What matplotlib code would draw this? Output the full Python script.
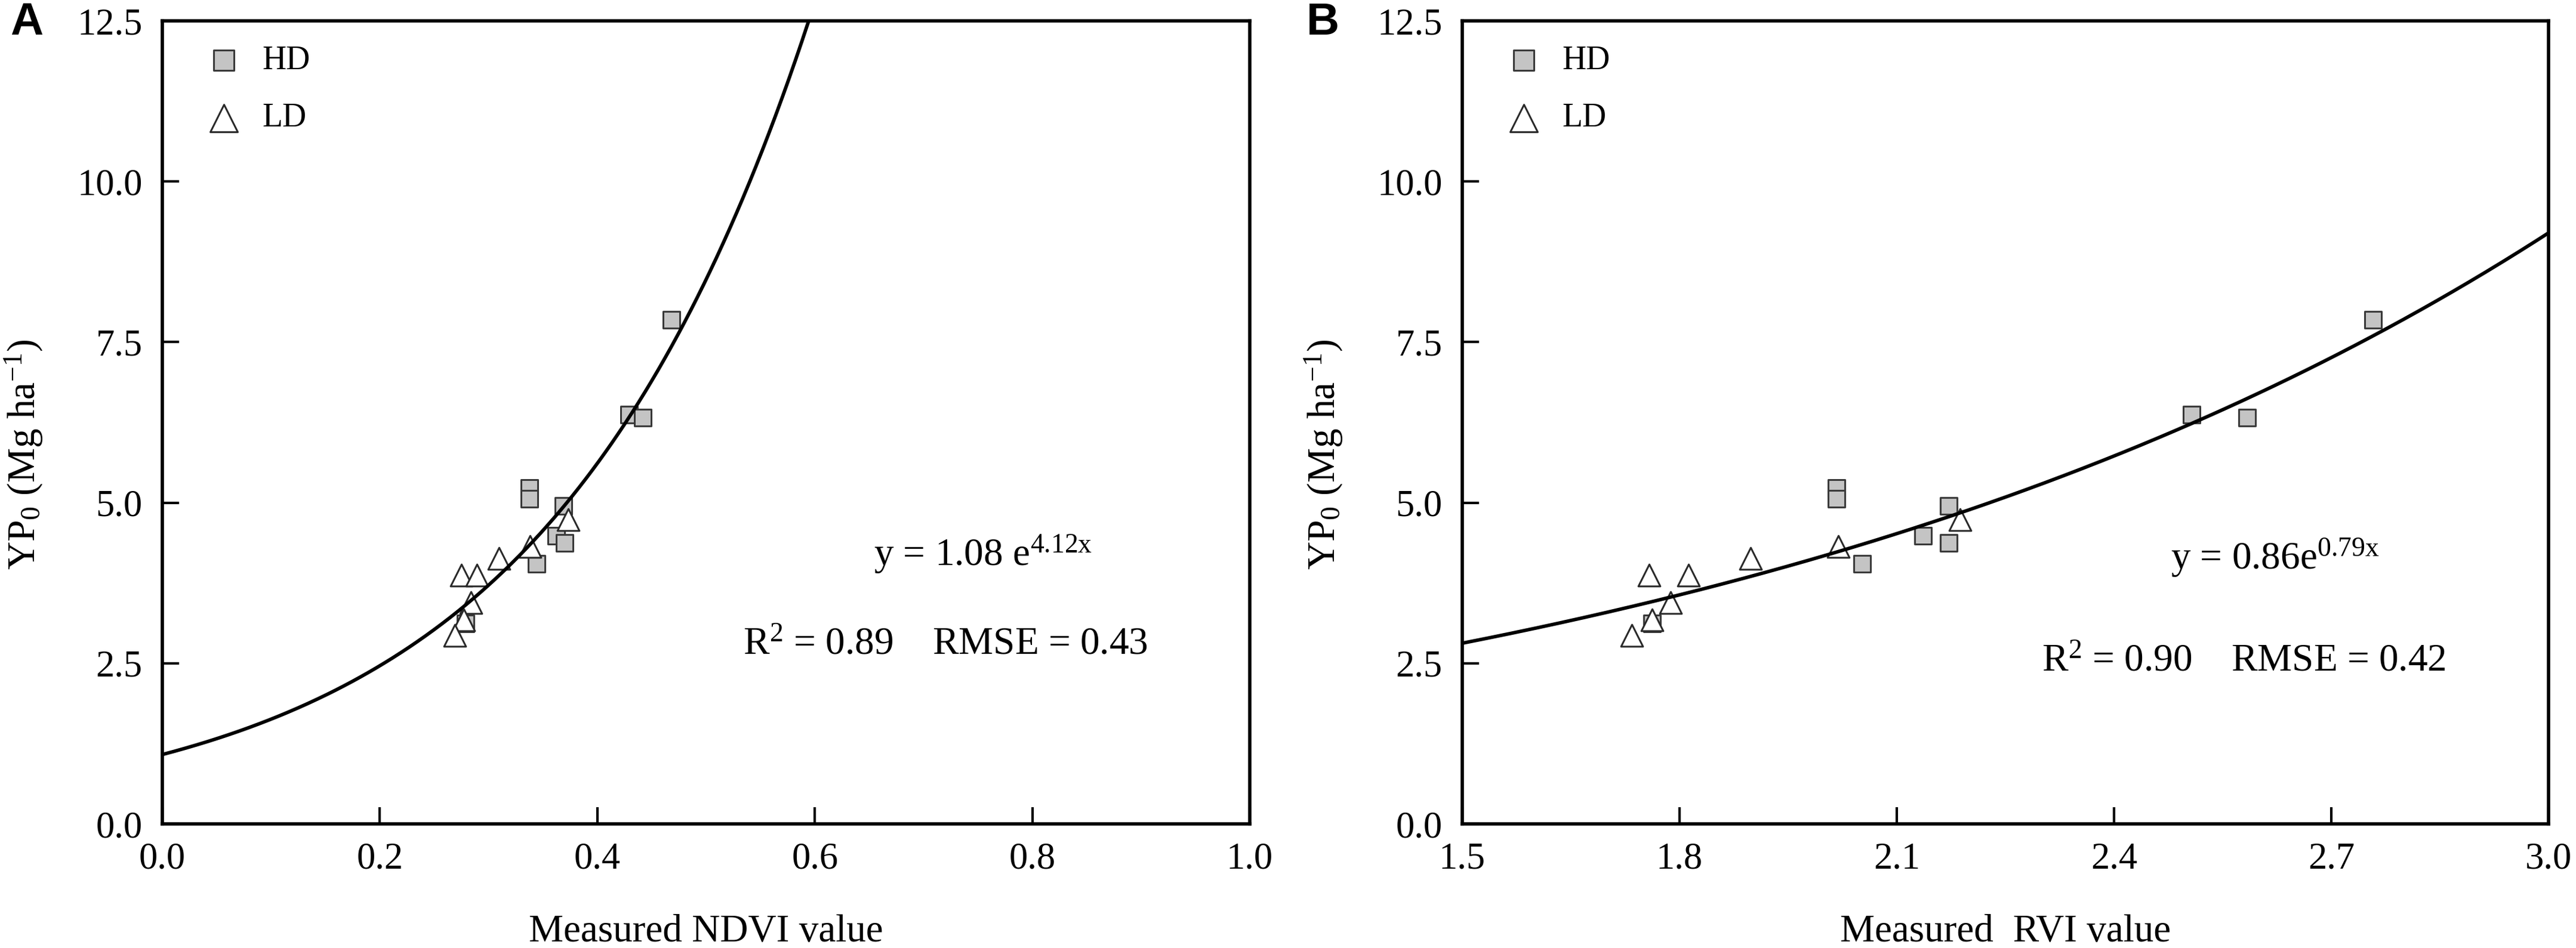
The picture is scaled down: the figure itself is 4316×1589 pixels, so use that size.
import numpy as np
import matplotlib
matplotlib.use('Agg')
import matplotlib.pyplot as plt

plt.rcParams['font.family'] = ['Liberation Serif', 'DejaVu Serif']
plt.rcParams['mathtext.fontset'] = 'custom'
plt.rcParams['mathtext.rm'] = 'Liberation Serif'
plt.rcParams['mathtext.it'] = 'Liberation Serif:italic'

# data (YP0, Mg ha-1)
hd_yp       = [7.85, 6.37, 6.32, 5.23, 5.06, 4.95, 4.49, 4.37, 4.05, 3.12]
ld_yp       = [4.74, 4.32, 4.13, 3.87, 3.87, 3.45, 3.18, 2.93]

hd_ndvi     = [0.468, 0.429, 0.442, 0.3375, 0.3375, 0.369, 0.362, 0.370, 0.344, 0.279]
ld_ndvi     = [0.373, 0.338, 0.3095, 0.275, 0.289, 0.284, 0.277, 0.269]

hd_rvi      = [2.758, 2.507, 2.584, 2.017, 2.017, 2.172, 2.136, 2.172, 2.052, 1.762]
ld_rvi      = [2.187, 2.019, 1.898, 1.758, 1.812, 1.788, 1.762, 1.734]

# fitted models y = a*exp(b*x)
fit_ndvi    = (1.08, 4.12)
fit_rvi     = (0.86, 0.79)

yticks      = [0.0, 2.5, 5.0, 7.5, 10.0, 12.5]
xticks_a    = [0.0, 0.2, 0.4, 0.6, 0.8, 1.0]
xticks_b    = [1.5, 1.8, 2.1, 2.4, 2.7, 3.0]

W, H = 4316, 1589
fig = plt.figure(figsize=(W/100, H/100), dpi=100)

ax_a = fig.add_axes([272/W, 1-1381/H, (2094-272)/W, 1346/H])
ax_b = fig.add_axes([2450/W, 1-1381/H, (4270-2450)/W, 1346/H])

def style(ax, xticks, xlabel):
    ax.set_ylim(0, 12.5)
    ax.set_xlim(xticks[0], xticks[-1])
    ax.set_yticks(yticks)
    ax.set_yticklabels(['%.1f' % v for v in yticks])
    ax.set_xticks(xticks)
    ax.set_xticklabels(['%.1f' % v for v in xticks])
    for s in ax.spines.values():
        s.set_linewidth(4)
    ax.tick_params(direction='in', length=20, width=3, labelsize=45, pad=22)
    ax.tick_params(axis='y', pad=24)
    ax.set_xlabel(xlabel, fontsize=47, labelpad=45)
    ax.set_ylabel('YP$_{0}$ (Mg ha$^{-1}$)', fontsize=47)
    ax.yaxis.set_label_coords(-0.108, 0.46)

def panel(ax, hx, lx, fit, x0, x1):
    sq = ax.scatter(hx, hd_yp, marker='s', s=378, facecolor='#c4c4c4',
                    edgecolor='#3a3a3a', linewidth=2.2, zorder=3, label='HD')
    tr = ax.scatter(lx, ld_yp, marker='^', s=700, facecolor='white',
                    edgecolor='#2a2a2a', linewidth=2.2, zorder=4, label='LD')
    xs = np.linspace(x0, x1, 400)
    ax.plot(xs, fit[0]*np.exp(fit[1]*xs), color='black', lw=4.2, zorder=5)
    ax.legend(handles=[sq, tr], loc='upper left', bbox_to_anchor=(0.0445, 0.9695),
              frameon=False, fontsize=40, markerscale=1.25, handlelength=0.8,
              handletextpad=0.75, labelspacing=0.8, borderpad=0, borderaxespad=0)

panel(ax_a, hd_ndvi, ld_ndvi, fit_ndvi, 0.0, 0.6)
panel(ax_b, hd_rvi, ld_rvi, fit_rvi, 1.5, 3.0)

style(ax_a, xticks_a, 'Measured NDVI value')
style(ax_b, xticks_b, 'Measured  RVI value')

ax_a.text(0.654, 4.03, r'y = 1.08 e$^{\mathrm{4.12x}}$', fontsize=47, va='baseline')
ax_a.text(0.534, 2.65, r'R$^{2}$ = 0.89    RMSE = 0.43', fontsize=47, va='baseline')
ax_b.text(2.478, 3.97, r'y = 0.86e$^{\mathrm{0.79x}}$', fontsize=47, va='baseline')
ax_b.text(2.300, 2.39, r'R$^{2}$ = 0.90    RMSE = 0.42', fontsize=47, va='baseline')

fig.text(45/W, 1-38/H, 'A', fontsize=55, fontweight='bold', family='Liberation Sans',
         ha='center', va='center')
fig.text(2216/W, 1-38/H, 'B', fontsize=55, fontweight='bold', family='Liberation Sans',
         ha='center', va='center')

fig.savefig('out.png', dpi=100)
